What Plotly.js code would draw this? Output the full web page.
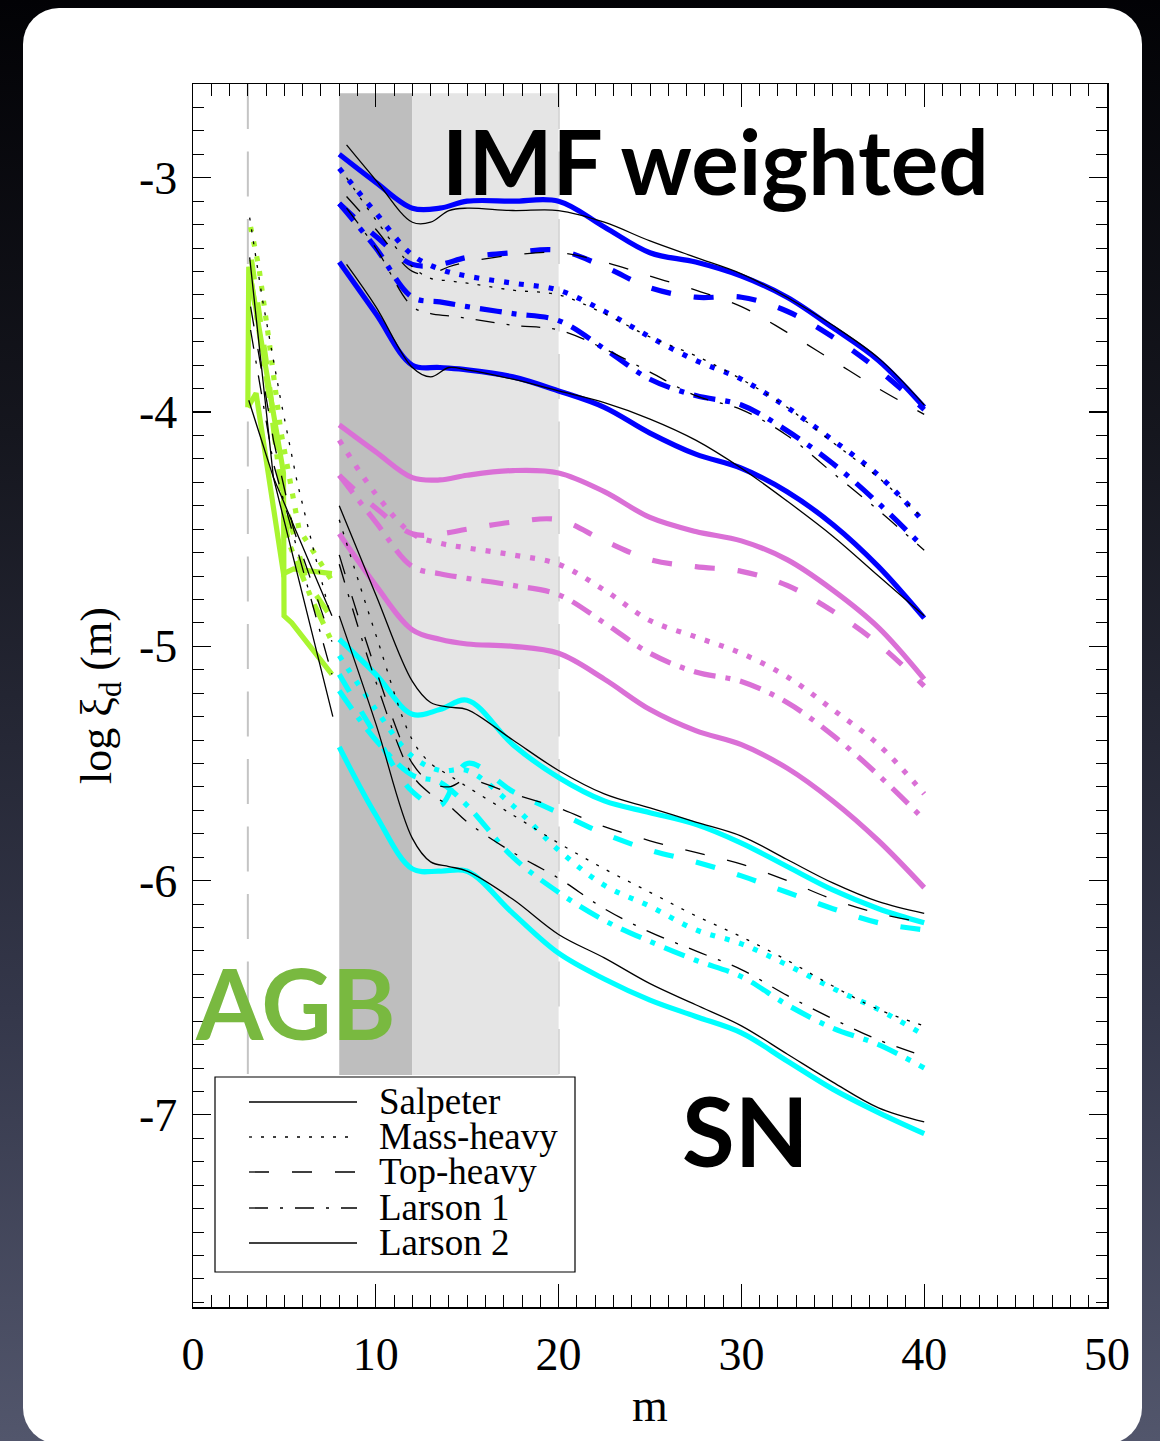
<!DOCTYPE html>
<html><head><meta charset="utf-8">
<script src="https://cdn.plot.ly/plotly-3.0.1.min.js"></script>
<style>
html,body{margin:0;padding:0;width:1160px;height:1441px;overflow:hidden;}
body{background:linear-gradient(180deg,#020205 0%,#15161e 30%,#34374a 70%,#52566c 100%);position:relative;}
#card{position:absolute;left:23px;top:8px;width:1119px;height:1436px;background:#fff;border-radius:36px;}
#chart{position:absolute;left:0;top:0;width:1160px;height:1441px;}
</style></head><body>
<div id="card"></div><div id="chart"></div>
<script>
// ---------------- data ----------------
const mCol   = [8, 10, 12, 13.5, 15, 17.5, 20, 22.5, 25, 27.5, 30, 32.5, 35, 37.5, 40];
const mBk    = [8.4, 10, 12, 13, 14, 15, 17.5, 20, 22.5, 25, 27.5, 30, 32.5, 35, 37.5, 40];
const mBkLow = [8, 10, 12, 13, 14, 15, 17.5, 20, 22.5, 25, 27.5, 30, 32.5, 35, 37.5, 40];

// blue group (coloured)
const blueSalp = [-2.90, -3.02, -3.13, -3.13, -3.10, -3.10, -3.10, -3.21, -3.32, -3.36, -3.42, -3.51, -3.64, -3.78, -3.98];
const blueMass = [-2.96, -3.15, -3.33, -3.39, -3.42, -3.45, -3.48, -3.57, -3.68, -3.78, -3.86, -3.98, -4.12, -4.27, -4.47];
const blueTop  = [-3.11, -3.25, -3.37, -3.37, -3.34, -3.32, -3.31, -3.38, -3.47, -3.51, -3.51, -3.57, -3.68, -3.82, -3.99];
const blueL1   = [-3.11, -3.30, -3.51, -3.53, -3.55, -3.58, -3.61, -3.73, -3.86, -3.93, -3.97, -4.08, -4.22, -4.39, -4.58];
const blueL2   = [-3.36, -3.58, -3.80, -3.81, -3.82, -3.85, -3.91, -3.98, -4.09, -4.18, -4.24, -4.34, -4.48, -4.66, -4.88];
// blue group (thin black)
const bkBlueSalp = [-2.86, -3.01, -3.19, -3.19, -3.14, -3.13, -3.14, -3.14, -3.19, -3.27, -3.34, -3.41, -3.51, -3.63, -3.77, -3.97];
const bkBlueMass = [-3.00, -3.18, -3.38, -3.43, -3.44, -3.45, -3.48, -3.50, -3.58, -3.68, -3.76, -3.86, -3.98, -4.13, -4.28, -4.46];
const bkBlueTop  = [-3.08, -3.22, -3.40, -3.41, -3.38, -3.36, -3.33, -3.32, -3.36, -3.42, -3.48, -3.55, -3.66, -3.78, -3.90, -4.01];
const bkBlueL1   = [-3.13, -3.30, -3.55, -3.58, -3.59, -3.60, -3.63, -3.65, -3.73, -3.83, -3.93, -3.99, -4.10, -4.26, -4.42, -4.59];
const bkBlueL2   = [-3.37, -3.55, -3.81, -3.85, -3.81, -3.82, -3.86, -3.91, -3.96, -4.03, -4.12, -4.24, -4.38, -4.53, -4.70, -4.87];

// orchid group
const orcSalp = [-4.055, -4.17, -4.28, -4.29, -4.27, -4.25, -4.26, -4.34, -4.45, -4.51, -4.55, -4.63, -4.76, -4.92, -5.14];
const orcMass = [-4.12, -4.35, -4.52, -4.56, -4.58, -4.61, -4.65, -4.76, -4.89, -4.96, -5.03, -5.13, -5.27, -5.42, -5.63];
const orcTop  = [-4.27, -4.41, -4.52, -4.52, -4.50, -4.47, -4.46, -4.55, -4.63, -4.66, -4.68, -4.74, -4.85, -4.99, -5.17];
const orcL1   = [-4.27, -4.47, -4.66, -4.69, -4.71, -4.74, -4.78, -4.90, -5.03, -5.11, -5.15, -5.24, -5.38, -5.55, -5.74];
const orcL2   = [-4.52, -4.74, -4.93, -4.97, -4.99, -5.00, -5.03, -5.14, -5.27, -5.36, -5.42, -5.52, -5.66, -5.83, -6.03];

// cyan group (coloured)
const cyanSalp = [-4.97, -5.12, -5.29, -5.27, -5.23, -5.42, -5.56, -5.66, -5.71, -5.76, -5.84, -5.94, -6.04, -6.12, -6.18];
const cyanMass = [-5.04, -5.27, -5.47, -5.53, -5.53, -5.68, -5.87, -6.02, -6.11, -6.21, -6.27, -6.36, -6.46, -6.55, -6.66];
const cyanTop  = [-5.12, -5.38, -5.62, -5.68, -5.50, -5.62, -5.71, -5.80, -5.87, -5.92, -5.98, -6.05, -6.12, -6.18, -6.21];
const cyanL1   = [-5.19, -5.40, -5.55, -5.58, -5.68, -5.90, -6.05, -6.17, -6.26, -6.34, -6.41, -6.53, -6.63, -6.70, -6.80];
const cyanL2   = [-5.43, -5.72, -5.95, -5.96, -5.96, -6.14, -6.31, -6.42, -6.51, -6.58, -6.65, -6.77, -6.89, -6.99, -7.08];
// cyan group (thin black)
const bkCyanSalp = [-4.40, -4.78, -5.15, -5.24, -5.26, -5.27, -5.40, -5.53, -5.63, -5.69, -5.75, -5.81, -5.91, -6.01, -6.09, -6.14];
const bkCyanMass = [-4.46, -4.95, -5.40, -5.50, -5.55, -5.60, -5.72, -5.84, -5.95, -6.05, -6.15, -6.24, -6.34, -6.45, -6.55, -6.62];
const bkCyanTop  = [-4.61, -5.10, -5.50, -5.58, -5.60, -5.57, -5.63, -5.69, -5.77, -5.83, -5.88, -5.93, -6.00, -6.08, -6.14, -6.18];
const bkCyanL1   = [-4.65, -5.15, -5.55, -5.63, -5.68, -5.75, -5.88, -5.99, -6.12, -6.22, -6.30, -6.38, -6.49, -6.59, -6.68, -6.75];
const bkCyanL2   = [-4.87, -5.33, -5.82, -5.92, -5.94, -5.96, -6.08, -6.23, -6.33, -6.44, -6.53, -6.62, -6.74, -6.86, -6.97, -7.03];

// AGB (green + thin black)
const agbGSalpM = [3.0, 3.05, 4.95, 4.98, 5.4, 7.6];
const agbGSalpY = [-3.98, -3.38, -4.26, -4.87, -4.90, -5.12];
const agbGL2M   = [3.0, 3.45, 4.95, 5.5, 7.6];
const agbGL2Y   = [-3.98, -3.92, -4.69, -4.67, -4.69];
const agbGMassM = [3.15, 3.6, 4.2, 4.8, 5.8, 7.6];
const agbGMassY = [-3.21, -3.38, -3.72, -4.08, -4.50, -4.72];
const agbGTopM  = [3.2, 4.0, 5.0, 6.2, 7.6];
const agbGTopY  = [-3.35, -3.78, -4.38, -4.72, -4.88];
const agbGL1M   = [3.2, 4.2, 5.2, 6.5, 7.6];
const agbGL1Y   = [-3.45, -3.95, -4.55, -4.80, -4.98];

const agbBSalpM = [3.1, 4.4, 7.65];
const agbBSalpY = [-3.34, -4.28, -5.30];
const agbBL2M   = [3.05, 4.4, 7.6];
const agbBL2Y   = [-3.95, -4.28, -4.87];
const agbBMassM = [3.1, 3.8, 4.8, 5.7, 6.6, 7.5];
const agbBMassY = [-3.17, -3.52, -3.95, -4.30, -4.59, -4.86];
const agbBTopM  = [3.15, 4.4, 5.5, 7.6];
const agbBTopY  = [-3.55, -4.12, -4.50, -4.98];
const agbBL1M   = [3.15, 4.4, 7.6];
const agbBL1Y   = [-3.65, -4.22, -5.12];

// labels
const imfNames = ['Salpeter', 'Mass-heavy', 'Top-heavy', 'Larson 1', 'Larson 2'];
const xTickVals = [0, 10, 20, 30, 40, 50];
const xTickText = ['0', '10', '20', '30', '40', '50'];
const yTickVals = [-7, -6, -5, -4, -3];
const yTickText = ['-7', '-6', '-5', '-4', '-3'];
const bandMass = [8, 12, 20];       // dark band 8-12, light band 12-20
const dividerMass = [3, 20];        // dashed grey dividers
const bandLogRange = [-6.83, -2.64];
const textLabels = ['IMF weighted', 'SN', 'AGB'];

// ---------------- styles ----------------
const BLUE = '#0000ff', ORC = '#da70d6', CYAN = '#00ffff', GREEN = '#a8f530', BLACK = '#000000';
const colDash = ['solid', '5px,10px', '20px,23px', '22px,10px,5px,10px', 'solid'];
const bkDash  = ['solid', '3px,9px', '20px,23px', '19px,12px,3px,12px', 'solid'];
const COLW = 5.2, BKW = 1.3;

const traces = [];
function addGroup(x, ys, color, width, dashes, shape, names) {
  ys.forEach((y, i) => {
    traces.push({
      type: 'scatter', mode: 'lines', x: x, y: y, name: names[i],
      line: {color: color, width: width, dash: dashes[i], shape: shape, smoothing: 1},
      hoverinfo: 'skip', showlegend: false
    });
  });
}
// coloured first, black thin on top
addGroup(mCol, [blueSalp, blueMass, blueTop, blueL1, blueL2], BLUE, COLW, colDash, 'spline', imfNames);
addGroup(mCol, [orcSalp, orcMass, orcTop, orcL1, orcL2], ORC, COLW, colDash, 'spline', imfNames);
addGroup(mCol, [cyanSalp, cyanMass, cyanTop, cyanL1, cyanL2], CYAN, COLW, colDash, 'spline', imfNames);
[[agbGSalpM, agbGSalpY, 0], [agbGMassM, agbGMassY, 1], [agbGTopM, agbGTopY, 2], [agbGL1M, agbGL1Y, 3], [agbGL2M, agbGL2Y, 4]].forEach(([x, y, i]) => {
  traces.push({type: 'scatter', mode: 'lines', x: x, y: y, name: imfNames[i],
    line: {color: GREEN, width: COLW, dash: colDash[i]}, hoverinfo: 'skip', showlegend: false});
});
addGroup(mBk, [bkBlueSalp, bkBlueMass, bkBlueTop, bkBlueL1, bkBlueL2], BLACK, BKW, bkDash, 'spline', imfNames);
addGroup(mBkLow, [bkCyanSalp, bkCyanMass, bkCyanTop, bkCyanL1, bkCyanL2], BLACK, BKW, bkDash, 'spline', imfNames);
[[agbBSalpM, agbBSalpY, 0], [agbBMassM, agbBMassY, 1], [agbBTopM, agbBTopY, 2], [agbBL1M, agbBL1Y, 3], [agbBL2M, agbBL2Y, 4]].forEach(([x, y, i]) => {
  traces.push({type: 'scatter', mode: 'lines', x: x, y: y, name: imfNames[i],
    line: {color: BLACK, width: BKW, dash: bkDash[i]}, hoverinfo: 'skip', showlegend: false});
});

// ---------------- layout ----------------
const L = 193, R = 1107, T = 84, B = 1307;
const px = v => (v - L) / (R - L);
const py = v => (B - v) / (B - T);

const shapes = [
  {type: 'rect', xref: 'x', yref: 'y', x0: bandMass[0], x1: bandMass[1], y0: bandLogRange[0], y1: bandLogRange[1],
   fillcolor: '#bebebe', line: {width: 0}, layer: 'below'},
  {type: 'rect', xref: 'x', yref: 'y', x0: bandMass[1], x1: bandMass[2], y0: bandLogRange[0], y1: bandLogRange[1],
   fillcolor: '#e5e5e5', line: {width: 0}, layer: 'below'}
];
dividerMass.forEach(m => shapes.push({type: 'line', xref: 'x', yref: 'paper', x0: m, x1: m, y0: 1, y1: py(1075),
  line: {color: '#c4c4c4', width: 2, dash: '45px,22.5px'}, layer: 'below'}));

// legend box (drawn manually to match the long line samples)
shapes.push({type: 'rect', xref: 'paper', yref: 'paper', x0: px(215), x1: px(575), y0: py(1272), y1: py(1077),
  fillcolor: '#ffffff', line: {color: '#000', width: 1.2}, layer: 'above'});
const legRows = [1102, 1137, 1172, 1208, 1243];
const annotations = [];
imfNames.forEach((n, i) => {
  shapes.push({type: 'line', xref: 'paper', yref: 'paper', x0: px(249), x1: px(357), y0: py(legRows[i]), y1: py(legRows[i]),
    line: {color: '#000', width: 1.3, dash: bkDash[i]}, layer: 'above'});
  annotations.push({xref: 'paper', yref: 'paper', x: px(377), y: py(legRows[i] - 1), xanchor: 'left', yanchor: 'middle',
    text: n, showarrow: false, font: {family: 'Liberation Serif, Times New Roman, serif', size: 37, color: '#000'}});
});
annotations.push({xref: 'paper', yref: 'paper', x: px(440), y: py(160), xanchor: 'left', yanchor: 'middle',
  text: textLabels[0], showarrow: false, font: {family: 'Lato', size: 89, weight: 700, color: '#000'}});
annotations.push({xref: 'paper', yref: 'paper', x: px(680), y: py(1129), xanchor: 'left', yanchor: 'middle',
  text: textLabels[1], showarrow: false, font: {family: 'Lato', size: 96, weight: 700, color: '#000'}});
annotations.push({xref: 'paper', yref: 'paper', x: px(193), y: py(1002), xanchor: 'left', yanchor: 'middle',
  text: textLabels[2], showarrow: false, font: {family: 'Lato', size: 97, weight: 700, color: '#79b940'}});

const serif = 'Liberation Serif, Times New Roman, serif';
const layout = {
  width: 1160, height: 1441,
  margin: {l: L, r: 1160 - R, t: T, b: 1441 - B, pad: 0},
  paper_bgcolor: 'rgba(0,0,0,0)', plot_bgcolor: 'rgba(0,0,0,0)',
  showlegend: false,
  font: {family: serif, color: '#000'},
  xaxis: {
    range: [0, 50], tickmode: 'array', tickvals: xTickVals, ticktext: xTickText,
    ticks: 'inside', ticklen: 23, tickwidth: 1.2, tickcolor: '#000',
    showline: true, linecolor: '#000', linewidth: 1.5, mirror: 'allticks',
    showgrid: false, zeroline: false,
    minor: {tickmode: 'linear', tick0: 0, dtick: 1, ticks: 'inside', ticklen: 12, tickwidth: 1, tickcolor: '#000', showgrid: false},
    tickfont: {family: serif, size: 46, color: '#000'}, ticklabelstandoff: 6,
    title: {text: 'm', font: {family: serif, size: 46, color: '#000'}, standoff: 10}
  },
  yaxis: {
    range: [-7.82, -2.6], tickmode: 'array', tickvals: yTickVals, ticktext: yTickText,
    ticks: 'inside', ticklen: 18, tickwidth: 1.2, tickcolor: '#000',
    showline: true, linecolor: '#000', linewidth: 1.5, mirror: 'allticks',
    showgrid: false, zeroline: false,
    minor: {tickmode: 'linear', tick0: 0, dtick: 0.1, ticks: 'inside', ticklen: 11, tickwidth: 1, tickcolor: '#000', showgrid: false},
    tickfont: {family: serif, size: 46, color: '#000'}, ticklabelstandoff: 5,
    title: {text: 'log ξ<sub>d</sub> (m)', font: {family: serif, size: 44, color: '#000'}, standoff: 13}
  },
  shapes: shapes,
  annotations: annotations
};

Plotly.newPlot('chart', traces, layout, {staticPlot: true, displayModeBar: false});
</script></body></html>
